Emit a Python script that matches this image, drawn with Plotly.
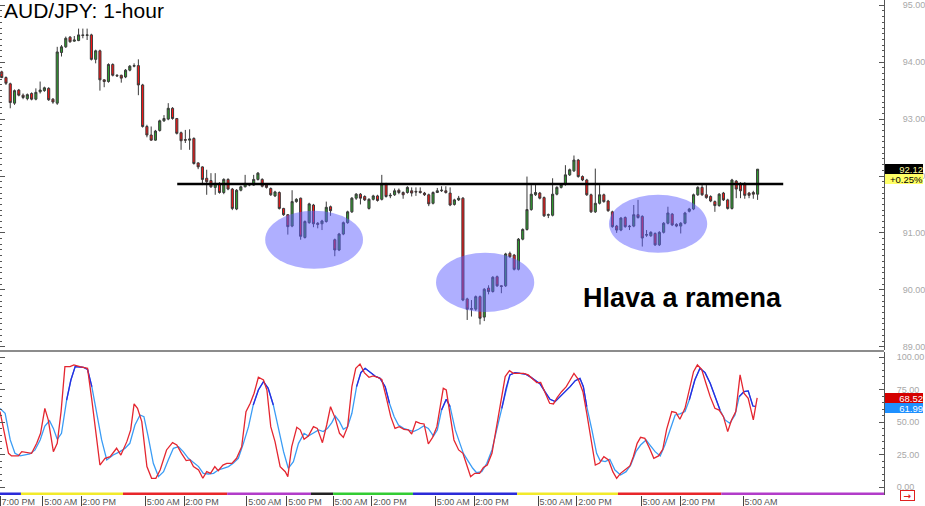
import plotly.graph_objects as go

# ---------------- data ----------------
opens = [93.83, 93.73, 93.62, 93.28, 93.51, 93.42, 93.36, 93.45, 93.35, 93.48,
         93.50, 93.54, 93.35, 93.28, 94.17, 94.27, 94.44, 94.37, 94.38, 94.48,
         94.47, 94.48, 94.05, 94.20, 93.69, 93.66, 93.96, 93.77, 93.77, 93.74,
         93.86, 93.93, 93.94, 93.60, 92.87, 92.72, 92.63, 92.80, 92.97, 93.00,
         93.19, 93.01, 92.76, 92.64, 92.63, 92.66, 92.23, 92.16, 91.96, 91.92,
         91.80, 91.87, 91.71, 91.94, 91.77, 91.42, 91.75, 91.81, 91.84, 91.84,
         91.94, 91.94, 91.84, 91.78, 91.65, 91.71, 91.43, 91.32, 91.12, 91.55,
         91.61, 90.92, 91.18, 91.49, 91.17, 91.16, 91.20, 91.46, 90.88, 90.70,
         90.98, 91.18, 91.37, 91.61, 91.68, 91.64, 91.43, 91.59, 91.65, 91.59,
         91.86, 91.65, 91.67, 91.75, 91.71, 91.71, 91.74, 91.73, 91.73, 91.70,
         91.67, 91.52, 91.71, 91.74, 91.74, 91.70, 91.50, 91.58, 91.61, 89.84,
         89.67, 89.66, 89.88, 89.52, 90.03, 89.97, 90.23, 90.07, 90.07, 90.64,
         90.61, 90.36, 90.89, 91.06, 91.41, 91.67, 91.70, 91.62, 91.31, 91.31,
         91.68, 91.80, 91.85, 92.02, 92.09, 92.28, 91.99, 91.93, 91.67, 91.37,
         91.52, 91.67, 91.56, 91.37, 91.12, 91.05, 91.27, 91.12, 91.12, 91.32,
         91.29, 90.96, 90.95, 90.99, 90.79, 91.01, 91.17, 91.33, 91.15, 91.12,
         91.17, 91.38, 91.42, 91.67, 91.80, 91.67, 91.64, 91.55, 91.48, 91.70,
         91.58, 91.43, 91.91, 91.87, 91.87, 91.70, 91.71, 91.68]
highs = [93.85, 93.75, 93.64, 93.52, 93.53, 93.45, 93.45, 93.47, 93.54, 93.66,
         93.57, 93.56, 93.37, 94.27, 94.30, 94.45, 94.46, 94.46, 94.59, 94.59,
         94.59, 94.50, 94.22, 94.22, 93.70, 93.98, 93.98, 93.79, 93.78, 93.88,
         93.95, 93.98, 94.05, 93.62, 92.90, 92.87, 92.81, 92.99, 93.07, 93.28,
         93.21, 93.02, 92.78, 92.81, 92.82, 92.68, 92.24, 92.17, 92.11, 92.05,
         92.05, 91.89, 91.96, 91.96, 91.79, 91.77, 91.83, 92.02, 91.87, 92.02,
         92.07, 91.96, 91.86, 91.80, 91.74, 91.73, 91.44, 91.33, 91.75, 91.61,
         91.62, 91.22, 91.53, 91.51, 91.19, 91.23, 91.55, 91.48, 90.90, 91.00,
         91.20, 91.39, 91.63, 91.70, 91.70, 91.66, 91.61, 91.67, 91.67, 92.02,
         91.88, 91.70, 91.78, 91.78, 91.73, 91.82, 91.80, 91.80, 91.80, 91.72,
         91.69, 91.73, 91.79, 91.82, 91.82, 91.80, 91.60, 91.65, 91.63, 89.86,
         89.82, 89.90, 89.90, 90.03, 90.08, 90.24, 90.25, 90.08, 90.65, 90.67,
         90.63, 90.91, 91.08, 91.99, 91.84, 91.84, 91.72, 91.64, 91.34, 91.96,
         91.82, 91.87, 92.19, 92.13, 92.36, 92.30, 92.01, 91.95, 91.69, 92.13,
         91.84, 91.69, 91.58, 91.39, 91.14, 91.28, 91.29, 91.14, 91.49, 91.58,
         91.31, 91.05, 91.03, 91.01, 91.03, 91.19, 91.46, 91.35, 91.17, 91.19,
         91.37, 91.44, 91.69, 91.82, 91.84, 91.84, 91.66, 91.57, 91.70, 91.72,
         91.60, 91.95, 91.93, 91.89, 91.89, 91.72, 91.74, 92.12]
lows = [93.72, 93.60, 93.19, 93.25, 93.40, 93.35, 93.33, 93.33, 93.33, 93.45,
        93.48, 93.32, 93.27, 93.25, 94.10, 94.25, 94.34, 94.36, 94.37, 94.42,
        94.39, 94.03, 93.98, 93.50, 93.56, 93.64, 93.75, 93.74, 93.64, 93.72,
        93.84, 93.91, 93.42, 92.85, 92.68, 92.62, 92.62, 92.78, 92.95, 92.98,
        92.99, 92.73, 92.46, 92.58, 92.46, 92.20, 92.12, 91.84, 91.67, 91.79,
        91.67, 91.69, 91.68, 91.75, 91.40, 91.40, 91.73, 91.80, 91.82, 91.83,
        91.92, 91.80, 91.78, 91.65, 91.63, 91.41, 91.30, 90.97, 91.10, 91.53,
        90.88, 90.90, 91.16, 91.10, 91.08, 91.05, 91.18, 91.30, 90.59, 90.68,
        90.96, 91.16, 91.35, 91.58, 91.50, 91.56, 91.41, 91.57, 91.55, 91.57,
        91.62, 91.61, 91.65, 91.68, 91.60, 91.69, 91.64, 91.65, 91.69, 91.65,
        91.47, 91.50, 91.70, 91.72, 91.69, 91.47, 91.48, 91.56, 89.80, 89.47,
        89.53, 89.63, 89.39, 89.45, 89.92, 89.95, 90.05, 89.94, 90.05, 90.56,
        90.34, 90.34, 90.87, 91.04, 91.39, 91.65, 91.59, 91.28, 91.26, 91.29,
        91.66, 91.78, 91.83, 92.00, 92.07, 91.97, 91.91, 91.65, 91.35, 91.35,
        91.50, 91.53, 91.37, 91.09, 91.00, 91.03, 91.09, 91.05, 91.10, 91.25,
        90.76, 90.93, 90.93, 90.77, 90.77, 90.99, 91.15, 91.12, 91.10, 90.99,
        91.15, 91.36, 91.40, 91.65, 91.65, 91.60, 91.54, 91.37, 91.46, 91.56,
        91.41, 91.41, 91.61, 91.61, 91.60, 91.61, 91.60, 91.58]
closes = [93.73, 93.63, 93.29, 93.50, 93.42, 93.38, 93.43, 93.35, 93.47, 93.51,
          93.55, 93.34, 93.30, 94.18, 94.27, 94.42, 94.36, 94.39, 94.48, 94.47,
          94.48, 94.05, 94.20, 93.69, 93.66, 93.96, 93.77, 93.76, 93.72, 93.86,
          93.93, 93.94, 93.60, 92.87, 92.72, 92.63, 92.79, 92.97, 93.01, 93.19,
          93.01, 92.75, 92.62, 92.63, 92.65, 92.22, 92.16, 91.94, 91.90, 91.81,
          91.87, 91.71, 91.94, 91.77, 91.43, 91.75, 91.81, 91.87, 91.85, 91.94,
          92.05, 91.82, 91.80, 91.67, 91.72, 91.43, 91.32, 91.11, 91.55, 91.59,
          90.94, 91.20, 91.51, 91.16, 91.15, 91.21, 91.45, 91.39, 90.70, 90.98,
          91.18, 91.37, 91.61, 91.68, 91.61, 91.58, 91.59, 91.65, 91.57, 91.86,
          91.64, 91.66, 91.74, 91.71, 91.67, 91.80, 91.70, 91.72, 91.71, 91.67,
          91.51, 91.71, 91.74, 91.75, 91.71, 91.49, 91.58, 91.61, 89.82, 89.66,
          89.66, 89.88, 89.50, 90.01, 89.97, 90.22, 90.07, 90.06, 90.63, 90.58,
          90.36, 90.89, 91.06, 91.41, 91.68, 91.71, 91.61, 91.30, 91.32, 91.68,
          91.80, 91.85, 92.02, 92.11, 92.28, 91.99, 91.93, 91.67, 91.37, 91.52,
          91.67, 91.55, 91.39, 91.11, 91.05, 91.26, 91.11, 91.11, 91.32, 91.27,
          90.91, 90.97, 91.01, 90.79, 91.01, 91.17, 91.35, 91.14, 91.12, 91.17,
          91.35, 91.42, 91.67, 91.80, 91.67, 91.62, 91.56, 91.48, 91.68, 91.58,
          91.43, 91.93, 91.77, 91.74, 91.66, 91.66, 91.68, 92.12]

# Stochastic %K (red) and %D (blue): positions in bar units, values 0-100
k_pos = [-0.4, 1.6, 2.3, 3.9, 4.7, 5.8, 7.0, 8.2, 9.1, 10.1, 10.9, 12.1, 13.0, 13.9, 14.8,
         16.0, 16.9, 18.3, 20.1, 21.1, 22.2, 23.0, 24.2, 25.4, 26.9, 27.9, 29.3, 30.2,
         31.0, 31.8, 32.8, 34.0, 35.1, 36.1, 37.1, 38.6, 40.0, 41.0, 42.1, 43.2, 44.1,
         44.9, 46.1, 47.1, 48.0, 48.9, 49.9, 50.7, 51.8, 52.7, 53.9, 55.0, 56.2, 57.2,
         58.2, 59.1, 60.1, 61.3, 62.1, 63.0, 64.0, 65.2, 66.4, 67.0, 67.9, 69.1, 69.9,
         70.8, 71.8, 73.0, 73.9, 75.1, 76.1, 77.0, 78.1, 79.1, 80.0, 81.0, 82.0, 82.9,
         83.9, 84.9, 86.0, 87.0, 88.0, 89.0, 90.0, 91.1, 92.1, 93.1, 94.2, 95.2, 96.0,
         97.0, 98.0, 98.9, 99.9, 100.9, 101.9, 102.8, 103.4, 104.1, 105.0, 105.9, 107.0,
         108.0, 108.9, 109.8, 110.8, 111.9, 112.8, 113.7, 114.8, 115.9, 116.9, 117.9,
         118.9, 119.8, 121.0, 122.2, 123.3, 124.3, 125.3, 126.2, 127.2, 128.3, 129.2,
         130.1, 131.1, 132.2, 133.1, 134.0, 135.0, 136.1, 137.0, 137.9, 139.0, 140.0,
         141.0, 142.1, 143.1, 144.0, 144.9, 145.9, 147.1, 147.9, 148.8, 149.6, 150.6,
         151.7, 152.7, 153.8, 154.8, 155.7, 156.9, 157.9, 158.8, 160.0, 161.0, 162.0,
         162.9, 163.9, 164.9, 165.9, 167.0, 168.0, 169.0, 170.0, 170.9, 171.9, 172.9,
         173.8, 174.8, 176.0, 176.9]
k_val = [58.0, 25.9, 23.9, 23.9, 27.2, 26.4, 25.9, 33.6, 41.3, 60.5, 51.6, 27.2, 33.6, 58.0, 92.6,
         92.6, 93.9, 92.6, 91.3, 67.0, 40.0, 16.9, 22.1, 23.3, 29.8, 24.6, 34.9, 43.9,
         63.9, 60.5, 50.3, 15.7, 6.7, 6.7, 13.1, 28.5, 34.1, 32.3, 25.9, 20.3, 20.8,
         15.7, 13.1, 6.7, 11.8, 10.5, 15.7, 12.6, 16.9, 18.2, 18.2, 22.1, 31.0, 58.0,
         64.4, 72.1, 84.4, 82.3, 74.6, 46.4, 34.9, 15.7, 11.8, 8.0, 30.9, 45.9, 44.0,
         36.7, 39.2, 46.4, 45.1, 34.1, 47.7, 61.8, 52.8, 41.3, 38.2, 46.4, 77.2, 91.3,
         94.6, 88.0, 84.4, 85.4, 84.4, 82.8, 69.5, 54.1, 45.1, 46.4, 44.4, 43.9, 40.8,
         50.3, 49.0, 48.5, 33.1, 38.2, 46.4, 63.1, 75.9, 74.6, 55.4, 36.2, 28.5,
         25.9, 16.9, 8.0, 10.5, 10.5, 15.1, 16.9, 25.9, 46.4, 66.9, 84.9,
         89.5, 87.4, 87.4, 87.4, 86.2, 83.6, 80.3, 80.5, 72.1, 64.4, 63.9,
         69.0, 73.3, 77.2, 82.3, 87.4, 82.8, 73.3, 56.7, 38.2, 16.9, 18.5,
         23.3, 20.8, 11.8, 6.7, 10.5, 13.1, 16.2, 23.3, 33.6, 38.2, 37.4,
         29.8, 22.1, 23.9, 29.0, 44.4, 58.0, 57.2, 52.1, 60.5, 74.6, 88.7,
         93.9, 90.5, 79.8, 69.5, 60.5, 59.2, 54.1, 42.6, 51.6, 58.0, 86.2,
         72.1, 68.2, 51.6, 68.52]
d_pos = [-0.4, 0.8, 2.0, 3.1, 4.3, 5.5, 6.6, 7.8, 9.0, 10.1, 11.2, 12.1, 13.0, 14.0, 15.2,
         16.2, 17.2, 19.1, 20.1, 21.1, 22.2, 23.4, 24.6, 26.1, 27.7, 28.9, 30.0, 31.2,
         32.4, 33.3, 34.3, 35.5, 36.7, 37.9, 39.0, 40.2, 41.4, 42.5, 43.7, 44.9, 46.1,
         47.2, 48.4, 49.6, 50.7, 51.9, 53.1, 54.2, 55.4, 56.6, 57.8, 58.9, 60.1, 61.3,
         62.4, 63.6, 64.8, 66.0, 67.1, 68.3, 69.5, 70.8, 71.8, 73.0, 74.2, 75.3, 76.3,
         77.3, 78.1, 79.1, 80.0, 81.0, 82.0, 83.1, 84.1, 85.1, 86.3, 87.4, 88.6, 89.8,
         90.8, 91.9, 92.9, 94.1, 95.2, 96.4, 97.6, 98.8, 99.9, 101.1, 102.0, 103.0,
         104.1, 105.0, 106.2, 107.2, 108.1, 109.3, 110.3, 111.2, 112.4, 113.6, 114.8,
         115.9, 117.1, 118.1, 119.0, 120.2, 121.4, 122.6, 123.7, 124.9, 126.1, 127.2,
         128.4, 129.6, 130.8, 131.9, 133.1, 134.3, 135.4, 136.2, 137.0, 138.2, 139.3,
         140.1, 141.3, 142.4, 143.6, 144.9, 146.2, 147.3, 148.5, 149.6, 150.9, 151.8,
         153.0, 154.2, 155.3, 156.5, 157.7, 158.8, 160.0, 161.0, 162.3, 163.5, 164.7,
         165.9, 167.0, 168.2, 169.4, 170.5, 171.7, 172.7, 173.8, 174.8, 175.9, 176.6]
d_val = [60.5, 56.7, 36.2, 25.9, 23.9, 24.6, 25.4, 28.5, 36.2, 46.9, 51.0, 45.1, 36.7, 41.3, 66.9,
         82.3, 92.6, 92.1, 90.5, 77.2, 56.7, 36.2, 20.8, 24.6, 27.2, 29.8, 33.6, 47.7,
         55.4, 54.1, 38.7, 18.2, 8.0, 11.8, 20.8, 29.8, 31.0, 27.2, 22.1, 18.7, 15.7,
         10.5, 10.0, 10.5, 13.1, 14.4, 15.7, 18.2, 22.1, 33.6, 46.4, 63.1, 74.6, 81.0,
         75.9, 63.1, 45.1, 27.2, 14.4, 19.5, 33.6, 41.3, 39.2, 41.3, 43.9, 42.6, 45.1,
         49.5, 54.6, 50.3, 44.4, 46.4, 56.7, 77.2, 88.0, 91.3, 88.0, 85.4, 83.6, 77.2,
         64.4, 54.1, 47.7, 45.1, 43.9, 42.6, 44.4, 46.9, 45.1, 39.2, 43.9, 59.2,
         67.5, 61.8, 43.9, 33.6, 25.9, 19.5, 14.4, 11.0, 11.8, 18.2, 28.5,
         43.9, 60.5, 75.9, 86.2, 88.0, 87.4, 86.9, 84.9, 82.3, 79.2, 73.3,
         67.5, 65.7, 69.5, 73.3, 77.2, 81.8, 83.6, 77.2, 61.8, 43.9, 25.9,
         20.5, 19.5, 21.3, 13.1, 9.2, 11.8, 16.9, 27.2, 32.3, 36.2, 32.3,
         27.2, 23.9, 32.3, 43.9, 55.4, 56.2, 58.0, 66.9, 82.3, 91.3, 88.0,
         79.8, 69.5, 59.2, 51.6, 49.0, 55.4, 69.5, 73.3, 73.9, 62.3, 61.99]

price_ticks = [89, 90, 91, 92, 93, 94, 95]
stoch_ticks = [0, 25, 50, 75, 100]
time_tick_pos = [-0.35, 9.6, 18.6, 33.6, 42.7, 57.4, 66.8, 77.6, 86.7, 101.5,
                 110.6, 125.6, 134.7, 149.7, 158.9, 173.6]
time_tick_text = ["7:00 PM", "5:00 AM", "2:00 PM", "5:00 AM", "2:00 PM", "5:00 AM",
                  "5:00 PM", "5:00 AM", "2:00 PM", "5:00 AM", "2:00 PM", "5:00 AM",
                  "2:00 PM", "5:00 AM", "2:00 PM", "5:00 AM"]
day_edges = [-0.4, 4.5, 28.4, 52.8, 72.4, 77.6, 96.3, 120.7, 144.3, 168.5, 206.6]
day_colors = ["#2b2bd8", "#f2ea2a", "#e8262a", "#b23cc9", "#222222",
              "#33cc33", "#2b2bd8", "#f2ea2a", "#e8262a", "#b23cc9"]
neckline_level = 91.86
neckline_from, neckline_to = 41.1, 183.0
# pattern zones: (bar from, bar to, price low, price high)
zones = [(61.7, 84.6, 90.37, 91.39), (101.7, 124.7, 89.61, 90.65), (142.2, 165.2, 90.65, 91.67)]
last_price = "92.12"
change_pct = "+0.25%"
last_k = 68.52
last_d = 61.99
x_range = [-0.4, 206.6]
price_range = [88.942, 95.093]
stoch_range = [-6.15, 103.85]

FONT = "Liberation Sans, Arial, sans-serif"
bars = list(range(len(opens)))

fig = go.Figure()
fig.add_trace(go.Candlestick(
    x=bars, open=opens, high=highs, low=lows, close=closes,
    increasing=dict(fillcolor="#2f9e2f", line=dict(color="#3a3a3a", width=1)),
    decreasing=dict(fillcolor="#ff1414", line=dict(color="#3a3a3a", width=1)),
    whiskerwidth=0, showlegend=False, hoverinfo="skip", xaxis="x", yaxis="y"))

# %D light and dark parts
D_T = 59
fig.add_trace(go.Scatter(x=d_pos, y=d_val, mode="lines", line=dict(color="#3a9cf5", width=1.3),
                         showlegend=False, hoverinfo="skip", xaxis="x2", yaxis="y2"))
d_dark = [v if v >= D_T else None for v in d_val]
fig.add_trace(go.Scatter(x=d_pos, y=d_dark, mode="lines", line=dict(color="#2a2ae0", width=1.3),
                         connectgaps=False, showlegend=False, hoverinfo="skip", xaxis="x2", yaxis="y2"))
fig.add_trace(go.Scatter(x=k_pos, y=k_val, mode="lines", line=dict(color="#e42630", width=1.3),
                         showlegend=False, hoverinfo="skip", xaxis="x2", yaxis="y2"))

H = 495
main_bottom = 1 - 350 / H
lower_top = 143 / H

shapes = []
for (a, b, lo, hi) in zones:
    shapes.append(dict(type="circle", xref="x", yref="y", x0=a, x1=b, y0=lo, y1=hi,
                       fillcolor="#6060ff", opacity=0.5, line=dict(width=0), layer="above"))
shapes.append(dict(type="line", xref="x", yref="y", x0=neckline_from, x1=neckline_to,
                   y0=neckline_level, y1=neckline_level, line=dict(color="black", width=2.6)))
shapes.append(dict(type="line", xref="paper", yref="paper", x0=0, x1=1,
                   y0=lower_top + 1 / H, y1=lower_top + 1 / H, line=dict(color="#666666", width=1.5)))
for j, col in enumerate(day_colors):
    shapes.append(dict(type="rect", xref="x2", yref="paper", x0=day_edges[j], x1=day_edges[j + 1],
                       y0=0, y1=2.5 / H, fillcolor=col, line=dict(width=0), layer="above"))

ann = [
    dict(text="AUD/JPY: 1-hour", xref="paper", yref="paper", x=0.002, y=1, xanchor="left",
         yanchor="top", showarrow=False, yshift=3, font=dict(family=FONT, size=21, color="black")),
    dict(text="<b>Hlava a ramena</b>", xref="x", yref="y", x=159.3, y=89.86, showarrow=False,
         font=dict(family=FONT, size=27, color="black")),
    dict(text=last_price, xref="paper", yref="y", x=885 / 884, y=float(last_price), xanchor="left",
         showarrow=False, width=38, height=10, align="right", borderpad=0, borderwidth=0, bgcolor="black",
         font=dict(family=FONT, size=9.5, color="#ffffa0")),
    dict(text=change_pct, xref="paper", yref="y", x=885 / 884, y=float(last_price), xanchor="left",
         yshift=-10, showarrow=False, width=38, height=10, align="right", borderpad=0, borderwidth=0,
         bgcolor="#ffff66", font=dict(family=FONT, size=9.5, color="black")),
    dict(text=f"{last_d:.2f}", xref="paper", yref="y2", x=885 / 884, y=last_d, xanchor="left",
         yshift=-2, showarrow=False, width=38, height=10, align="right", borderpad=0, borderwidth=0,
         bgcolor="#1e90ff", font=dict(family=FONT, size=9.5, color="white")),
    dict(text=f"{last_k:.2f}", xref="paper", yref="y2", x=885 / 884, y=last_k, xanchor="left",
         showarrow=False, width=38, height=10, align="right", borderpad=0, borderwidth=0,
         bgcolor="#d40000", font=dict(family=FONT, size=9.5, color="white")),
    dict(text="<b>→</b>", xref="paper", yref="paper", x=915 / 884, y=-6 / H, showarrow=False,
         bgcolor="white", bordercolor="#e02020", borderwidth=1, borderpad=0, width=13, height=9,
         font=dict(family="DejaVu Sans, sans-serif", size=9, color="#e02020")),
]

fig.update_layout(
    template="none",
    width=925, height=506, margin=dict(l=0, r=41, t=0, b=11, autoexpand=False),
    paper_bgcolor="white", plot_bgcolor="white", showlegend=False,
    shapes=shapes, annotations=ann,
    xaxis=dict(domain=[0, 1], anchor="y", range=x_range, visible=False, automargin=False,
               rangeslider=dict(visible=False), showgrid=False, zeroline=False),
    yaxis=dict(domain=[main_bottom, 1], anchor="x", side="right", range=price_range, automargin=False,
               tickvals=price_ticks, ticktext=[f"{v:.2f}" for v in price_ticks],
               ticks="inside", ticklen=5, tickcolor="#555555", showline=True, linecolor="#555555",
               mirror="ticks", showgrid=False, zeroline=False, ticklabelstandoff=16,
               tickfont=dict(family=FONT, size=9, color="#a8a8a8"),
               minor=dict(dtick=0.1, ticks="inside", ticklen=2, tickcolor="#555555", showgrid=False)),
    xaxis2=dict(domain=[0, 1], anchor="y2", range=x_range, matches="x", showgrid=False, automargin=False,
                zeroline=False, showline=False, tickvals=time_tick_pos, ticktext=time_tick_text,
                ticks="outside", ticklen=10, tickcolor="#444444", ticklabelshift=18,
                ticklabelstandoff=-12, tickfont=dict(family=FONT, size=9, color="#555555")),
    yaxis2=dict(domain=[0, lower_top], anchor="x2", side="right", range=stoch_range, automargin=False,
                tickvals=stoch_ticks, ticktext=[f"{v:.2f}" for v in stoch_ticks],
                ticks="inside", ticklen=5, tickcolor="#555555", showline=True, linecolor="#555555",
                mirror="ticks", showgrid=False, zeroline=False, ticklabelstandoff=10,
                tickfont=dict(family=FONT, size=9, color="#a8a8a8"),
                minor=dict(dtick=5, ticks="inside", ticklen=2, tickcolor="#555555", showgrid=False)),
)

fig.write_html("out.html", config={"displayModeBar": False},
               post_script="document.body.style.margin='0';document.body.style.overflow='hidden';")
